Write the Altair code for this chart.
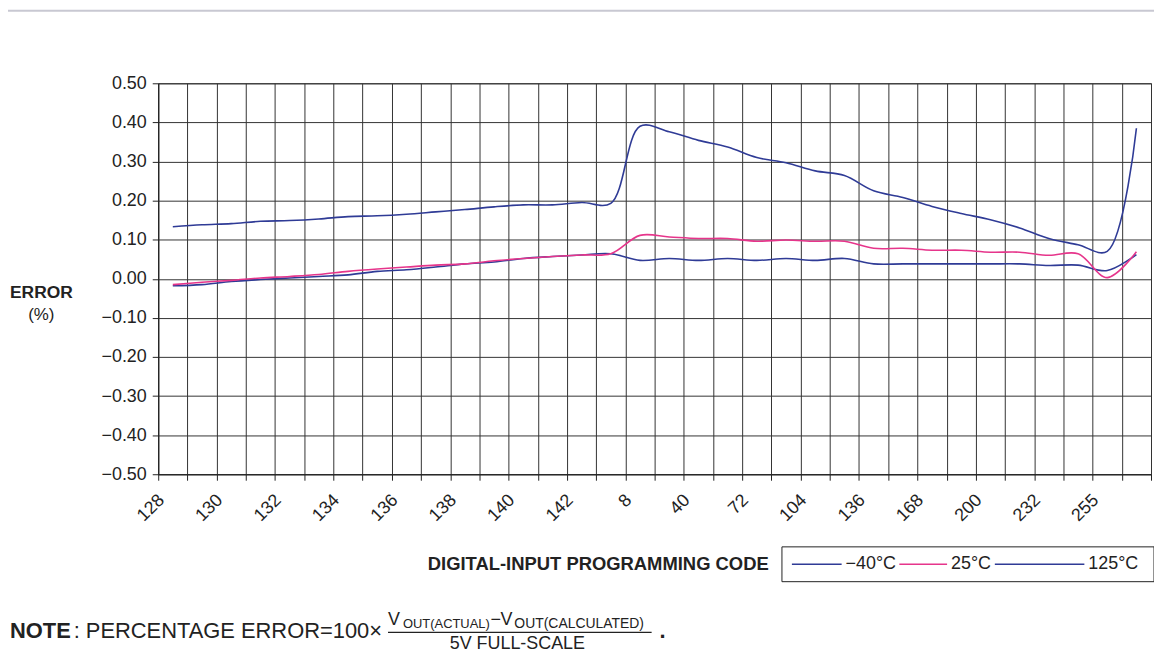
import altair as alt
import pandas as pd

FONT = "Liberation Sans"
NAVY = "#2f3b96"
PINK = "#e6358b"
INK = "#222222"

# ---- data -------------------------------------------------------------
TICK_LABELS = ['128', '130', '132', '134', '136', '138', '140', '142',
               '8', '40', '72', '104', '136', '168', '200', '232', '255']
# 34 category slots; points sit at the centre of each slot
POS = [i + 0.5 for i in range(34)]
SERIES = ['−40°C', '25°C', '125°C']
SERIES_COLORS = [NAVY, PINK, NAVY]

ERR_M40 = [-0.018, -0.015, -0.007, -0.002, 0.002, 0.006, 0.010, 0.019, 0.023, 0.030,
           0.038, 0.043, 0.052, 0.057, 0.061, 0.064, 0.047, 0.052, 0.047, 0.052,
           0.047, 0.052, 0.047, 0.052, 0.038, 0.038, 0.038, 0.038, 0.038, 0.038,
           0.034, 0.035, 0.021, 0.062]
ERR_25 = [-0.015, -0.009, -0.004, 0.002, 0.006, 0.011, 0.019, 0.025, 0.030, 0.035,
          0.038, 0.046, 0.052, 0.057, 0.061, 0.064, 0.111, 0.107, 0.103, 0.103,
          0.096, 0.099, 0.096, 0.096, 0.078, 0.078, 0.073, 0.073, 0.068, 0.068,
          0.060, 0.064, 0.003, 0.069]
ERR_125 = [0.133, 0.138, 0.141, 0.147, 0.149, 0.153, 0.159, 0.161, 0.165, 0.171,
           0.177, 0.184, 0.189, 0.189, 0.195, 0.193, 0.390, 0.376, 0.354, 0.337,
           0.310, 0.297, 0.276, 0.264, 0.225, 0.208, 0.185, 0.167, 0.151, 0.130,
           0.103, 0.087, 0.070, 0.385]
Y_TICKS = [-0.5, -0.4, -0.3, -0.2, -0.1, 0.0, 0.1, 0.2, 0.3, 0.4, 0.5]

rows = []
for name, vals in zip(SERIES, [ERR_M40, ERR_25, ERR_125]):
    for p, v in zip(POS, vals):
        rows.append({'pos': p, 'err': v, 'series': name})
df = pd.DataFrame(rows)

# ---- layout -----------------------------------------------------------
W, H = 998, 393
OX, OY = 159, 82          # page position of plot origin


def rx(px):
    return px - OX


def ry(py):
    return py - OY


x_label_expr = ("datum.value % 2 == 0 && datum.value < 34 ? "
                + str(TICK_LABELS) + "[datum.value / 2] : ''")
y_label_expr = ("datum.value < -0.001 ? '\u2212' + format(-datum.value, '.2f') "
                ": format(abs(datum.value), '.2f')")

lines = alt.Chart(df).mark_line(interpolate='catmull-rom', strokeWidth=1.6).encode(
    x=alt.X('pos:Q',
            scale=alt.Scale(domain=[0, 34], nice=False, zero=False),
            axis=alt.Axis(values=list(range(35)), labelExpr=x_label_expr, title=None,
                          labelAngle=315, labelAlign='right', labelBaseline='middle',
                          labelPadding=17, labelOffset=3, labelFlush=False,
                          labelOverlap=False, labelBound=False)),
    y=alt.Y('err:Q',
            scale=alt.Scale(domain=[-0.5, 0.5], nice=False, zero=False),
            axis=alt.Axis(values=Y_TICKS, labelExpr=y_label_expr, title=None,
                          labelPadding=6, labelFlush=False, labelOverlap=False)),
    color=alt.Color('series:N',
                    scale=alt.Scale(domain=SERIES, range=SERIES_COLORS),
                    sort=SERIES, legend=None),
)


def txt(s, px, py, size=18, weight='normal', align='left', baseline='alphabetic'):
    return alt.Chart(pd.DataFrame({'t': [s]})).mark_text(
        align=align, baseline=baseline, fontSize=size, fontWeight=weight,
        font=FONT, color=INK).encode(
        text='t:N', x=alt.value(rx(px)), y=alt.value(ry(py)))


def hrule(px1, px2, py, color=INK, width=1.2):
    return alt.Chart(pd.DataFrame({'a': [0]})).mark_rule(
        color=color, strokeWidth=width).encode(
        x=alt.value(rx(px1)), x2=alt.value(rx(px2)), y=alt.value(ry(py)))


# manual legend (box + line samples + labels)
LEG_BOX = (786, 548, 1160, 583)
LEG_LINES = [(796, 846), (904, 952), (1000, 1090)]
LEG_TEXT_X = [850, 956, 1094]
legend_box = alt.Chart(pd.DataFrame({'a': [0]})).mark_rect(
    fill='white', stroke=INK, strokeWidth=1).encode(
    x=alt.value(rx(LEG_BOX[0])), x2=alt.value(rx(LEG_BOX[2])),
    y=alt.value(ry(LEG_BOX[1])), y2=alt.value(ry(LEG_BOX[3])))
legend_parts = [legend_box]
ly = (LEG_BOX[1] + LEG_BOX[3]) / 2
for (a, b), tx, name, col in zip(LEG_LINES, LEG_TEXT_X, SERIES, SERIES_COLORS):
    legend_parts.append(hrule(a, b, ly, color=col, width=1.6))
    legend_parts.append(txt(name, tx, ly, size=18, baseline='middle'))

annotations = [
    hrule(8, 1160, 9, color='#c8c8d2', width=2),
    txt('ERROR', 10, 293, size=17.5, weight='bold', baseline='middle'),
    txt('(%)', 41.5, 315, size=17, align='center', baseline='middle'),
    txt('DIGITAL-INPUT PROGRAMMING CODE', 430, 565, size=18.5, weight='bold',
        baseline='middle'),
    txt('NOTE', 10, 640, size=22, weight='bold'),
    txt(': PERCENTAGE ERROR=100×', 384, 640, size=22, align='right'),
    txt('V', 390, 627, size=18),
    txt('OUT(ACTUAL)', 405, 630, size=13),
    txt('\u2212', 493, 627, size=18),
    txt('V', 503, 627, size=18),
    txt('OUT(CALCULATED)', 517, 630, size=14),
    hrule(390, 655, 634),
    txt('5V FULL-SCALE', 520, 651, size=18, align='center'),
    txt('.', 663, 640, size=22, weight='bold'),
]

chart = alt.layer(lines, *annotations, *legend_parts).properties(
    width=W, height=H,
    autosize=alt.AutoSizeParams(type='none'),
    padding={'left': OX - 8, 'top': OY - 8, 'right': 3, 'bottom': 178},
).configure_view(
    stroke='#333333', strokeWidth=1
).configure_axis(
    grid=True, gridColor='#333333', gridWidth=1, gridOpacity=1,
    domainColor=INK, tickColor=INK, tickSize=6,
    labelFont=FONT, labelFontSize=18, labelColor=INK,
)

chart.save("out.html", embed_options={"renderer": "svg", "actions": False})
